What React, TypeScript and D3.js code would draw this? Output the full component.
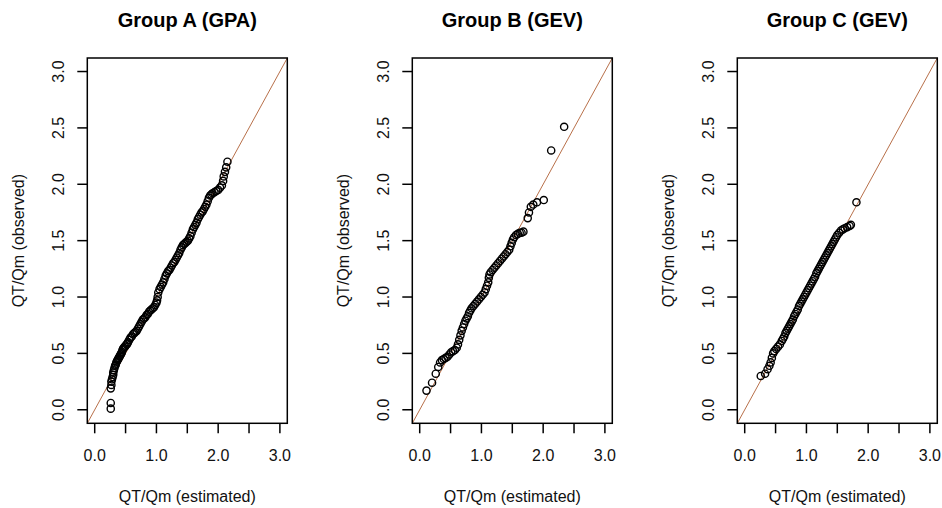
import React from "react";
import * as d3 from "d3";

type Pt = [number, number];

const titles = ["Group A (GPA)", "Group B (GEV)", "Group C (GEV)"];
const xLabel = "QT/Qm (estimated)";
const yLabel = "QT/Qm (observed)";
const tickValues = [0, 0.5, 1, 1.5, 2, 2.5, 3];
const xTickLabels = [0, 1, 2, 3];
const yTickLabels = [0, 0.5, 1, 1.5, 2, 2.5, 3];

const groupA: Pt[] = [
  [0.26, 0.01], [0.26, 0.06], [0.26, 0.19], [0.27, 0.22], [0.27, 0.25], [0.28, 0.27], [0.29, 0.29], [0.3, 0.31],
  [0.3, 0.33], [0.31, 0.35], [0.32, 0.37], [0.33, 0.39], [0.34, 0.4], [0.35, 0.42], [0.36, 0.43], [0.37, 0.44],
  [0.38, 0.45], [0.39, 0.46], [0.4, 0.47], [0.41, 0.48], [0.42, 0.49], [0.43, 0.5], [0.44, 0.51], [0.45, 0.53],
  [0.46, 0.54], [0.47, 0.55], [0.49, 0.56], [0.5, 0.57], [0.52, 0.58], [0.53, 0.59], [0.54, 0.6], [0.56, 0.62],
  [0.58, 0.64], [0.6, 0.65], [0.62, 0.67], [0.64, 0.68], [0.66, 0.69], [0.68, 0.7], [0.7, 0.72], [0.72, 0.74],
  [0.74, 0.76], [0.76, 0.78], [0.78, 0.8], [0.8, 0.81], [0.82, 0.82], [0.84, 0.84], [0.86, 0.85], [0.88, 0.87],
  [0.9, 0.88], [0.92, 0.89], [0.94, 0.9], [0.96, 0.91], [0.98, 0.93], [1.0, 0.95], [1.01, 0.97], [1.02, 1.0],
  [1.03, 1.04], [1.05, 1.07], [1.07, 1.09], [1.09, 1.11], [1.11, 1.13], [1.13, 1.16], [1.15, 1.19], [1.17, 1.21],
  [1.19, 1.23], [1.21, 1.24], [1.23, 1.26], [1.25, 1.28], [1.27, 1.3], [1.29, 1.31], [1.31, 1.33], [1.33, 1.35],
  [1.35, 1.37], [1.37, 1.39], [1.39, 1.42], [1.41, 1.44], [1.43, 1.46], [1.45, 1.47], [1.47, 1.48], [1.49, 1.49],
  [1.51, 1.5], [1.53, 1.52], [1.55, 1.54], [1.57, 1.57], [1.59, 1.6], [1.61, 1.62], [1.63, 1.64], [1.65, 1.66],
  [1.67, 1.69], [1.69, 1.71], [1.71, 1.73], [1.73, 1.75], [1.75, 1.76], [1.77, 1.78], [1.79, 1.8], [1.81, 1.82],
  [1.83, 1.85], [1.85, 1.88], [1.87, 1.9], [1.89, 1.91], [1.91, 1.92], [1.94, 1.93], [1.97, 1.94], [2.0, 1.95],
  [2.03, 1.97], [2.06, 1.99], [2.08, 2.03], [2.09, 2.07], [2.11, 2.11], [2.13, 2.15], [2.15, 2.2],
];

const groupB: Pt[] = [
  [0.11, 0.17], [0.2, 0.24], [0.26, 0.32], [0.3, 0.38], [0.33, 0.42], [0.36, 0.44], [0.39, 0.45], [0.42, 0.46],
  [0.45, 0.47], [0.48, 0.49], [0.51, 0.51], [0.54, 0.52], [0.57, 0.53], [0.6, 0.55], [0.62, 0.58], [0.64, 0.62],
  [0.66, 0.66], [0.68, 0.7], [0.7, 0.73], [0.72, 0.76], [0.74, 0.79], [0.76, 0.81], [0.78, 0.83], [0.8, 0.86],
  [0.82, 0.88], [0.84, 0.9], [0.87, 0.92], [0.9, 0.94], [0.93, 0.96], [0.96, 0.98], [0.99, 1.0], [1.02, 1.02],
  [1.05, 1.04], [1.07, 1.07], [1.09, 1.1], [1.11, 1.13], [1.12, 1.17], [1.13, 1.2], [1.15, 1.22], [1.18, 1.24],
  [1.21, 1.26], [1.24, 1.28], [1.27, 1.3], [1.3, 1.32], [1.33, 1.34], [1.36, 1.36], [1.39, 1.38], [1.42, 1.4],
  [1.45, 1.42], [1.47, 1.45], [1.49, 1.48], [1.51, 1.51], [1.53, 1.53], [1.56, 1.55], [1.59, 1.56], [1.62, 1.57],
  [1.65, 1.57], [1.68, 1.58], [1.75, 1.7], [1.77, 1.75], [1.8, 1.8], [1.84, 1.82], [1.9, 1.84], [2.01, 1.86],
  [2.13, 2.3], [2.34, 2.51],
];

const groupC: Pt[] = [
  [0.26, 0.3], [0.33, 0.32], [0.37, 0.36], [0.4, 0.39], [0.42, 0.42], [0.44, 0.46], [0.46, 0.5], [0.48, 0.52],
  [0.51, 0.54], [0.54, 0.56], [0.57, 0.58], [0.6, 0.61], [0.62, 0.63], [0.64, 0.65], [0.66, 0.68], [0.68, 0.7],
  [0.7, 0.72], [0.72, 0.74], [0.74, 0.76], [0.76, 0.78], [0.78, 0.8], [0.8, 0.83], [0.82, 0.85], [0.84, 0.87],
  [0.86, 0.89], [0.88, 0.92], [0.9, 0.94], [0.92, 0.96], [0.94, 0.98], [0.96, 1.0], [0.98, 1.02], [1.0, 1.04],
  [1.02, 1.06], [1.04, 1.08], [1.06, 1.1], [1.08, 1.12], [1.1, 1.14], [1.12, 1.16], [1.14, 1.18], [1.16, 1.21],
  [1.18, 1.23], [1.2, 1.25], [1.22, 1.27], [1.24, 1.29], [1.26, 1.31], [1.28, 1.33], [1.3, 1.35], [1.32, 1.37],
  [1.34, 1.39], [1.36, 1.41], [1.38, 1.43], [1.4, 1.45], [1.42, 1.47], [1.44, 1.49], [1.46, 1.51], [1.48, 1.53],
  [1.5, 1.55], [1.53, 1.57], [1.56, 1.59], [1.59, 1.6], [1.62, 1.61], [1.66, 1.62], [1.7, 1.63], [1.72, 1.64],
  [1.81, 1.84],
];

const groups = [groupA, groupB, groupC];
const domain: [number, number] = [-0.12, 3.12];

const FONT = "'Liberation Sans', Arial, sans-serif";
const LINE_COLOR = "#b8704a";

const panelLefts = [87.3, 412.3, 737.3];
const panelW = 200;
const top = 58;
const bottom = 423.3;

function Panel({ idx }: { idx: number }) {
  const left = panelLefts[idx];
  const right = left + panelW;
  const x = d3.scaleLinear().domain(domain).range([left, right]);
  const y = d3.scaleLinear().domain(domain).range([bottom, top]);
  const data = groups[idx];
  const cx = (left + right) / 2;
  const cy = (top + bottom) / 2;
  const clipId = `clip${idx}`;
  const linePath = d3.line<number>()
    .x((d) => x(d))
    .y((d) => y(d))(domain) as string;
  return (
    <g>
      <defs>
        <clipPath id={clipId}>
          <rect x={left} y={top} width={right - left} height={bottom - top} />
        </clipPath>
      </defs>
      <text x={cx} y={27} textAnchor="middle" fontFamily={FONT} fontWeight="bold" fontSize={20} fill="#000">
        {titles[idx]}
      </text>
      <path d={linePath} stroke={LINE_COLOR} strokeWidth={1} fill="none" clipPath={`url(#${clipId})`} />
      {data.map((d, i) => (
        <circle key={i} cx={x(d[0])} cy={y(d[1])} r={3.6} fill="none" stroke="#000" strokeWidth={1.4} />
      ))}
      <rect x={left} y={top} width={right - left} height={bottom - top} fill="none" stroke="#000" strokeWidth={1.5} />
      {tickValues.map((t) => (
        <line key={`xt${t}`} x1={x(t)} x2={x(t)} y1={bottom} y2={bottom + 10} stroke="#000" strokeWidth={1.5} />
      ))}
      {xTickLabels.map((t) => (
        <text key={`xl${t}`} x={x(t)} y={bottom + 32} textAnchor="middle" dominantBaseline="central"
          fontFamily={FONT} fontSize={16} fill="#111">
          {d3.format(".1f")(t)}
        </text>
      ))}
      {tickValues.map((t) => (
        <line key={`yt${t}`} x1={left - 10} x2={left} y1={y(t)} y2={y(t)} stroke="#000" strokeWidth={1.5} />
      ))}
      {yTickLabels.map((t) => (
        <text key={`yl${t}`} transform={`translate(${left - 29},${y(t)}) rotate(-90)`} textAnchor="middle"
          dominantBaseline="central" fontFamily={FONT} fontSize={16} fill="#111">
          {d3.format(".1f")(t)}
        </text>
      ))}
      <text x={cx} y={496} textAnchor="middle" dominantBaseline="central" fontFamily={FONT} fontSize={16} fill="#111">
        {xLabel}
      </text>
      <text transform={`translate(${left - 69},${cy}) rotate(-90)`} textAnchor="middle" dominantBaseline="central"
        fontFamily={FONT} fontSize={16} fill="#111">
        {yLabel}
      </text>
    </g>
  );
}

export default function App() {
  return (
    <svg width={942} height={508} style={{ position: "absolute", left: 0, top: 0, background: "#fff" }}>
      <rect width={942} height={508} fill="#fff" />
      {[0, 1, 2].map((i) => (
        <Panel key={i} idx={i} />
      ))}
    </svg>
  );
}
